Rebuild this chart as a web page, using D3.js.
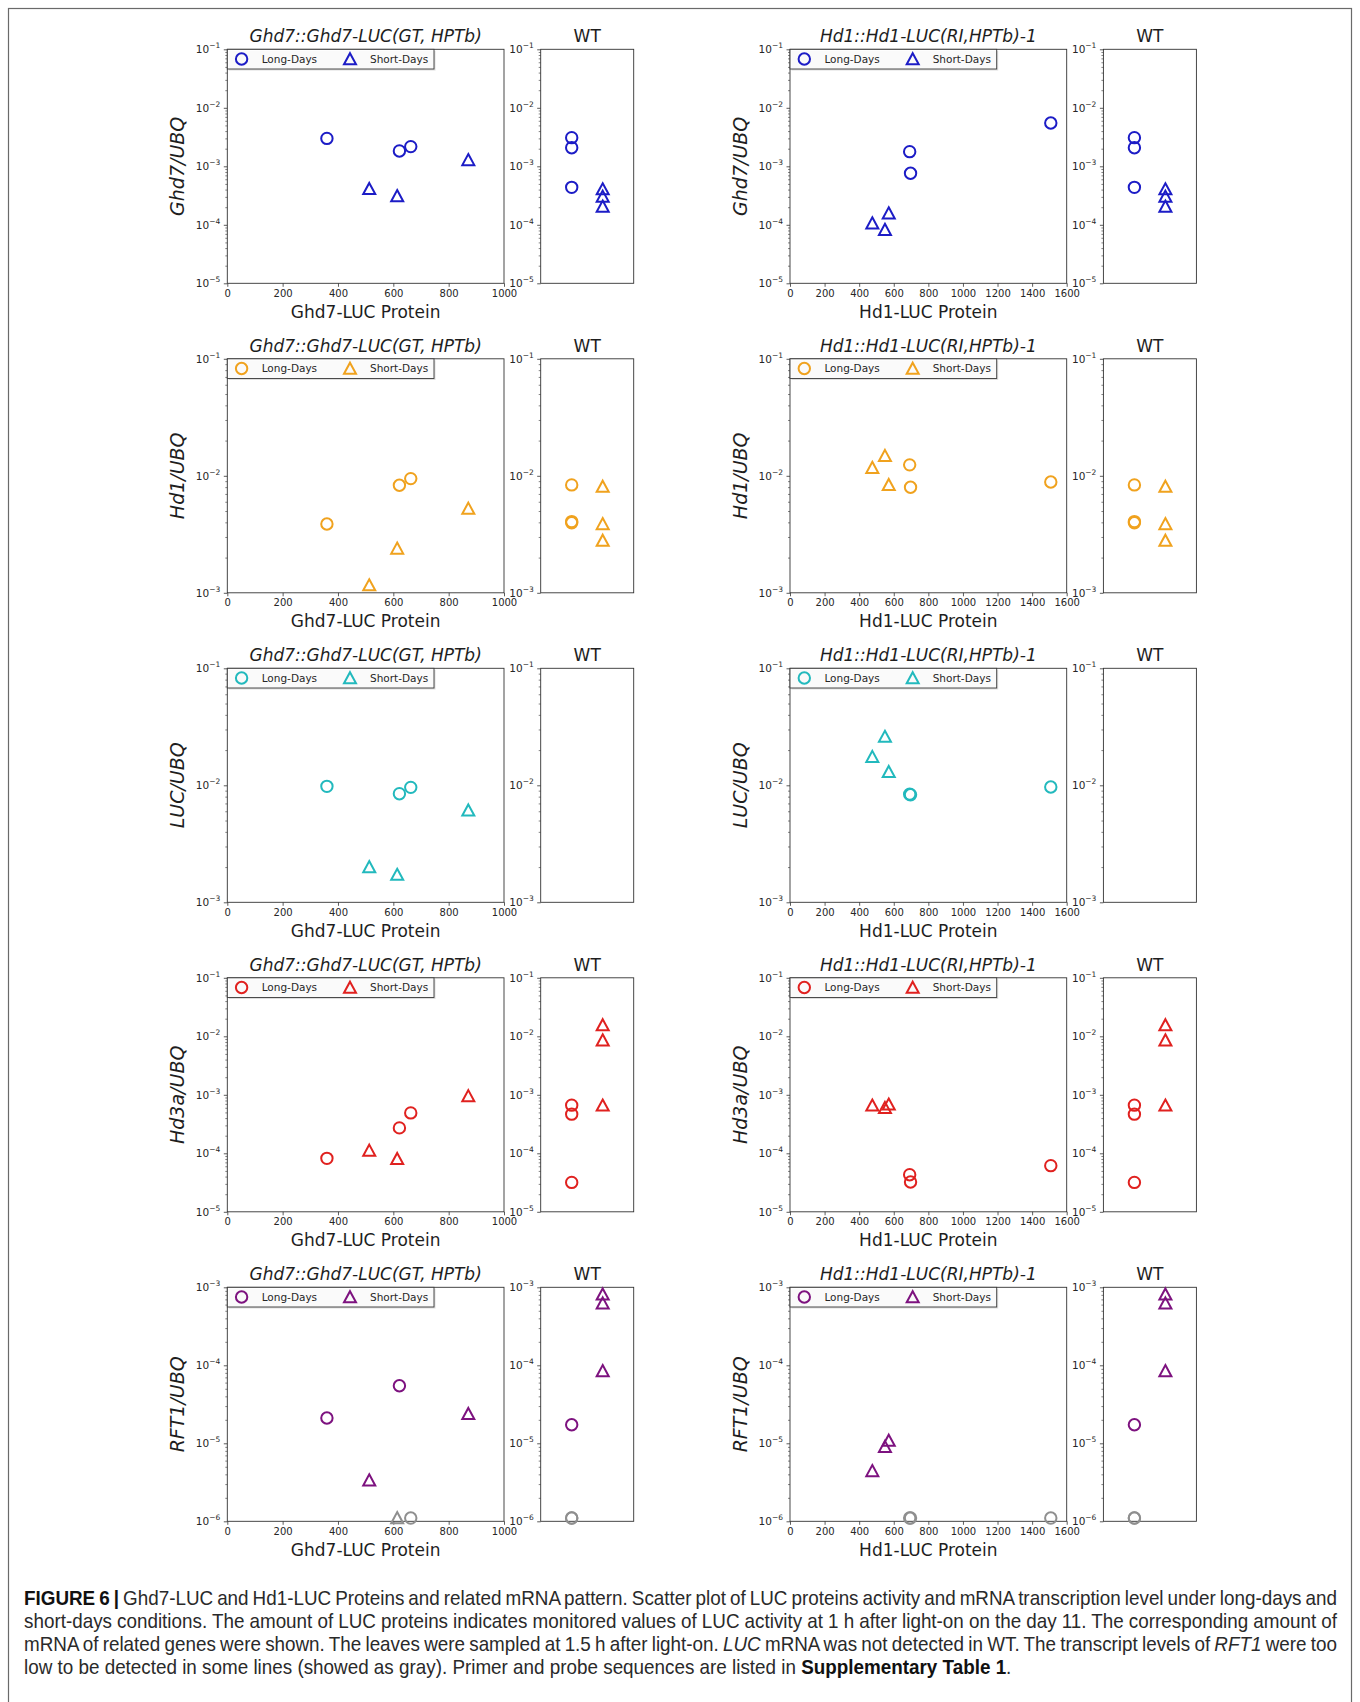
<!DOCTYPE html>
<html>
<head>
<meta charset="utf-8">
<script src="https://cdn.jsdelivr.net/npm/d3@7"></script>
<style>
  body { margin: 0; background: #fff; }
  svg { display: block; }
</style>
</head>
<body>
<svg id="fig"></svg>
<script>
// ---- LUC protein activity (x values) for each transgenic line ----
const ghd7ProteinLD = [360, 622, 663];
const ghd7ProteinSD = [513, 614, 871];
const hd1ProteinLD = [692, 697, 1508];
const hd1ProteinSD = [476, 549, 571];

// ---- mRNA rows, in drawing order ----
const genes = ["Ghd7", "Hd1", "LUC", "Hd3a", "RFT1"];
// log10 range of each row's y axis
const yExponents = [[-5, -1], [-3, -1], [-3, -1], [-5, -1], [-6, -3]];

// Ghd7::Ghd7-LUC line, one array per gene row (null = not detected)
const ghd7LineLD = [
  [3.0e-3, 1.83e-3, 2.17e-3],
  [3.87e-3, 8.3e-3, 9.46e-3],
  [9.8e-3, 8.48e-3, 9.6e-3],
  [8.2e-5, 2.72e-4, 4.9e-4],
  [2.11e-5, 5.46e-5, null]
];
const ghd7LineSD = [
  [4.1e-4, 3.1e-4, 1.28e-3],
  [1.16e-3, 2.39e-3, 5.24e-3],
  [2.0e-3, 1.72e-3, 6.1e-3],
  [1.11e-4, 8.0e-5, 9.5e-4],
  [3.35e-6, null, 2.38e-5]
];

// Hd1::Hd1-LUC line
const hd1LineLD = [
  [1.78e-3, 7.6e-4, 5.5e-3],
  [1.24e-2, 7.98e-3, 8.86e-3],
  [8.4e-3, 8.3e-3, 9.68e-3],
  [4.31e-5, 3.23e-5, 6.15e-5],
  [null, null, null]
];
const hd1LineSD = [
  [1.06e-4, 8.2e-5, 1.57e-4],
  [1.17e-2, 1.48e-2, 8.36e-3],
  [1.75e-2, 2.6e-2, 1.3e-2],
  [6.56e-4, 5.98e-4, 6.83e-4],
  [4.41e-6, 9.0e-6, 1.08e-5]
];

// Wild type (LUC not measured in WT)
const wtLD = [
  [3.09e-3, 2.08e-3, 4.37e-4],
  [8.36e-3, 4.06e-3, 3.97e-3],
  [],
  [6.65e-4, 4.67e-4, 3.18e-5],
  [1.73e-5, null, null]
];
const wtSD = [
  [4.05e-4, 3.03e-4, 2.05e-4],
  [8.07e-3, 3.87e-3, 2.79e-3],
  [],
  [1.55e-2, 8.53e-3, 6.56e-4],
  [8.1e-4, 6.22e-4, 8.43e-5]
];

// level at which undetected samples are plotted (in gray)
const undetectedLevel = 1.1e-6;

const legendLabels = ["Long-Days", "Short-Days"];
const wtTitle = "WT";

const lines = [
  { title: "Ghd7::Ghd7-LUC(GT, HPTb)", xlabel: "Ghd7-LUC Protein", xmax: 1000,
    protLD: ghd7ProteinLD, protSD: ghd7ProteinSD, ld: ghd7LineLD, sd: ghd7LineSD },
  { title: "Hd1::Hd1-LUC(RI,HPTb)-1", xlabel: "Hd1-LUC Protein", xmax: 1600,
    protLD: hd1ProteinLD, protSD: hd1ProteinSD, ld: hd1LineLD, sd: hd1LineSD }
];

// ---- styles ----
const rowColors = ["#1c1cc6", "#f0a21e", "#22b9bd", "#e0211f", "#7d127f"];
const grayColor = "#8f8f8f";
const axisColor = "#333";
const tickFont = "'DejaVu Sans', sans-serif";

// ---- layout ----
const W = 1360, H = 1702;
const rowTop0 = 49.3, rowStep = 309.5, plotH = 234;
const colLeft = [227.3, 790], mainW = 276.7, wtGap = 36.7, wtW = 93;

const svg = d3.select("#fig").attr("width", W).attr("height", H)
  .attr("font-family", tickFont);
svg.append("rect").attr("width", W).attr("height", H).attr("fill", "#fff");
// outer figure box (runs past the bottom edge)
svg.append("rect").attr("x", 8.5).attr("y", 8.5).attr("width", 1343).attr("height", 1710)
  .attr("fill", "none").attr("stroke", "#6a6a6a").attr("stroke-width", 1.2);

function markerPath(type) {
  if (type === "circle") {
    const r = 5.7;
    return `M${r},0A${r},${r} 0 1,1 ${-r},0A${r},${r} 0 1,1 ${r},0Z`;
  }
  const s = 6;
  return `M0,${-s}L${s},${s * 0.85}L${-s},${s * 0.85}Z`;
}

function drawMarker(g, type, cx, cy, color) {
  g.append("path")
    .attr("d", markerPath(type))
    .attr("transform", `translate(${cx},${cy})`)
    .attr("fill", "none")
    .attr("stroke", color)
    .attr("stroke-width", 2)
    .attr("stroke-linejoin", "miter");
}

function styleAxis(sel) {
  sel.select(".domain").remove();
  sel.selectAll(".tick line").attr("stroke", axisColor).attr("stroke-width", 0.8);
  sel.selectAll(".tick text").attr("fill", "#262626").attr("font-size", 10)
    .attr("font-family", tickFont);
}

function powerLabels(sel) {
  sel.selectAll(".tick text").attr("font-size", 10.5).each(function (d) {
    const t = d3.select(this);
    t.text(null);
    t.append("tspan").text("10");
    t.append("tspan").attr("font-size", 7.5).attr("dy", -5)
      .text("\u2212" + Math.abs(Math.round(Math.log10(d))));
  });
}

function drawYAxis(g, y, left, e0, e1) {
  const majors = d3.range(e0, e1 + 1).map(e => Math.pow(10, e));
  const minors = [];
  for (let e = e0; e < e1; e++) for (let m = 2; m <= 9; m++) minors.push(m * Math.pow(10, e));
  const minorAx = g.append("g").attr("transform", `translate(${left},0)`)
    .call(d3.axisLeft(y).tickValues(minors).tickSize(2).tickFormat(""));
  styleAxis(minorAx);
  minorAx.selectAll(".tick line").attr("stroke-width", 0.6);
  const majorAx = g.append("g").attr("transform", `translate(${left},0)`)
    .call(d3.axisLeft(y).tickValues(majors).tickSize(3.5).tickPadding(3.5));
  styleAxis(majorAx);
  powerLabels(majorAx);
}

function frame(g, x, y, w, h) {
  g.append("rect").attr("x", x).attr("y", y).attr("width", w).attr("height", h)
    .attr("fill", "none").attr("stroke", axisColor).attr("stroke-width", 0.9);
}

function plotSeries(g, xs, vals, type, color, xScale, yScale) {
  vals.forEach((v, i) => {
    const xv = Array.isArray(xs) ? xs[i] : xs;
    const detected = v !== null;
    drawMarker(g, type, xScale(xv), yScale(detected ? v : undetectedLevel),
      detected ? color : grayColor);
  });
}

genes.forEach((gene, r) => {
  const top = rowTop0 + r * rowStep;
  const [e0, e1] = yExponents[r];
  const y = d3.scaleLog().domain([Math.pow(10, e0), Math.pow(10, e1)]).range([top + plotH, top]);
  const color = rowColors[r];

  lines.forEach((ln, c) => {
    const left = colLeft[c];
    const g = svg.append("g");

    // ---- main scatter panel ----
    const x = d3.scaleLinear().domain([0, ln.xmax]).range([left, left + mainW]);
    const xAx = g.append("g").attr("transform", `translate(0,${top + plotH})`)
      .call(d3.axisBottom(x).tickValues(d3.range(0, ln.xmax + 1, 200))
        .tickSize(3.5).tickPadding(3).tickFormat(d3.format("d")));
    styleAxis(xAx);
    drawYAxis(g, y, left, e0, e1);
    frame(g, left, top, mainW, plotH);

    plotSeries(g, ln.protLD, ln.ld[r], "circle", color, x, y);
    plotSeries(g, ln.protSD, ln.sd[r], "triangle", color, x, y);

    // legend
    const lg = g.append("g").attr("transform", `translate(${left},${top})`);
    lg.append("rect").attr("x", 1.5).attr("y", 1.5).attr("width", 206.7).attr("height", 19.7)
      .attr("fill", "#bbb").attr("opacity", 0.5);
    lg.append("rect").attr("x", 0).attr("y", 0).attr("width", 206.7).attr("height", 19.7)
      .attr("fill", "#fff").attr("fill-opacity", 0.85)
      .attr("stroke", "#3a3a3a").attr("stroke-width", 0.9);
    drawMarker(lg, "circle", 14.3, 9.7, color);
    lg.append("text").attr("x", 34.4).attr("y", 9.7).attr("dy", "0.35em")
      .attr("font-size", 10.5).attr("fill", "#262626").text(legendLabels[0]);
    drawMarker(lg, "triangle", 122.7, 9.9, color);
    lg.append("text").attr("x", 142.7).attr("y", 9.7).attr("dy", "0.35em")
      .attr("font-size", 10.5).attr("fill", "#262626").text(legendLabels[1]);

    // titles and labels
    g.append("text").attr("x", left + mainW / 2).attr("y", top - 7)
      .attr("text-anchor", "middle").attr("font-size", 17).attr("font-style", "italic")
      .attr("fill", "#1e1e1e").text(ln.title);
    g.append("text").attr("x", left + mainW / 2).attr("y", top + plotH + 34.4)
      .attr("text-anchor", "middle").attr("font-size", 17).attr("fill", "#1e1e1e")
      .text(ln.xlabel);
    g.append("text")
      .attr("transform", `translate(${left - 43},${top + plotH / 2}) rotate(-90)`)
      .attr("text-anchor", "middle").attr("font-size", 19).attr("font-style", "italic")
      .attr("fill", "#1e1e1e").text(gene + "/UBQ");

    // ---- wild-type panel ----
    const wl = left + mainW + wtGap;
    const xw = d3.scaleLinear().domain([0, 3]).range([wl, wl + wtW]);
    drawYAxis(g, y, wl, e0, e1);
    frame(g, wl, top, wtW, plotH);
    plotSeries(g, 1, wtLD[r], "circle", color, xw, y);
    plotSeries(g, 2, wtSD[r], "triangle", color, xw, y);
    g.append("text").attr("x", wl + wtW / 2).attr("y", top - 7)
      .attr("text-anchor", "middle").attr("font-size", 17).attr("fill", "#1e1e1e")
      .text(wtTitle);
  });
});

// ---- figure caption (slightly condensed by horizontal scaling) ----
const captionLines = [
  [["b", "FIGURE 6 |"], ["n", " Ghd7-LUC and Hd1-LUC Proteins and related mRNA pattern. Scatter plot of LUC proteins activity and mRNA transcription level under long-days and"]],
  [["n", "short-days conditions. The amount of LUC proteins indicates monitored values of LUC activity at 1 h after light-on on the day 11. The corresponding amount of"]],
  [["n", "mRNA of related genes were shown. The leaves were sampled at 1.5 h after light-on. "], ["i", "LUC"], ["n", " mRNA was not detected in WT. The transcript levels of "], ["i", "RFT1"], ["n", " were too"]],
  [["n", "low to be detected in some lines (showed as gray). Primer and probe sequences are listed in "], ["b", "Supplementary Table 1"], ["n", "."]]
];
const capX = 24, capRight = 1337, capY0 = 1605, capStep = 23, capScale = 0.943;
const cap = svg.append("g")
  .attr("transform", `scale(${capScale},1)`)
  .attr("font-family", "'Liberation Sans', Arial, sans-serif")
  .attr("font-size", 20).attr("fill", "#2a2a2a");
captionLines.forEach((parts, i) => {
  const t = cap.append("text").attr("x", capX / capScale).attr("y", capY0 + i * capStep);
  parts.forEach(([style, s]) => {
    const ts = t.append("tspan").text(s);
    if (style === "b") ts.attr("font-weight", "bold").attr("fill", "#111");
    if (style === "i") ts.attr("font-style", "italic");
  });
  // justify all but the last line
  if (i < captionLines.length - 1) {
    const natural = t.node().getComputedTextLength();
    const spaces = parts.map(p => p[1]).join("").split(" ").length - 1;
    t.attr("word-spacing", ((capRight - capX) / capScale - natural) / spaces);
  }
});
</script>
</body>
</html>
